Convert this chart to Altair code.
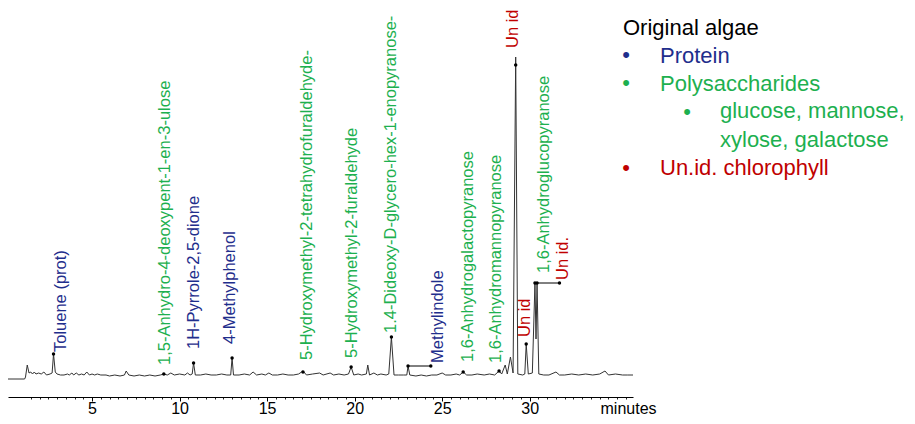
import altair as alt
import pandas as pd

FONT = "Liberation Sans"
NAVY = "#1F2E8C"
GREEN = "#1DB04F"
RED = "#C00000"

# ---- chromatogram trace (retention time in minutes, abundance in arbitrary units) ----
trace_time = [0.2, 1.15, 1.2, 1.3, 1.4, 1.5, 1.6, 1.7, 1.8, 1.95, 2.1, 2.25, 2.4, 2.6, 2.72,
              2.8, 2.9, 3.0, 3.2, 3.4, 3.6, 3.7, 3.85, 3.95, 4.1, 4.25, 4.4, 4.55, 4.7, 4.85,
              5.0, 5.15, 5.3, 5.5, 5.8, 6.0, 6.3, 6.6, 6.85, 6.95, 7.1, 7.4, 7.7, 8.0, 8.3,
              8.6, 8.9, 9.1, 9.3, 9.5, 9.7, 10.0, 10.3, 10.45, 10.6, 10.72, 10.8, 10.9, 11.2, 11.5,
              11.8, 12.1, 12.4, 12.7, 12.92, 13.0, 13.08, 13.4, 13.7, 14.0, 14.2, 14.4, 14.7, 14.9,
              15.1, 15.3, 15.6, 15.9, 16.2, 16.5, 16.8, 17.05, 17.25, 17.6, 18.0, 18.2, 18.6, 18.8,
              19.1, 19.4, 19.65, 19.8, 19.95, 20.2, 20.4, 20.67, 20.75, 20.85, 21.1, 21.3, 21.5,
              21.8, 21.95, 22.1, 22.25, 22.5, 22.8, 22.98, 23.05, 23.15, 23.5, 23.8, 24.1, 24.4,
              24.7, 25.0, 25.2, 25.5, 25.8, 26.0, 26.2, 26.4, 26.7, 27.0, 27.4, 27.7, 28.0, 28.25,
              28.4, 28.6, 28.72, 28.9, 29.05, 29.2, 29.32, 29.6, 29.72, 29.8, 29.92, 30.15, 30.3,
              30.36, 30.42, 30.52, 30.8, 31.1, 31.5, 31.7, 32.0, 32.4, 32.8, 33.2, 33.6, 34.0,
              34.3, 34.5, 34.9, 35.3, 35.6, 35.9]
trace_abund = [0, 0, 2, 14, 6, 7, 5, 7, 5, 6, 5, 7, 4, 5, 6,
               25, 7, 5, 4, 4, 5, 4, 6, 4, 6, 4, 5, 4, 7, 4,
               5, 4, 5, 4, 4, 3, 4, 3, 4, 8, 4, 3, 4, 3, 4,
               3, 4, 5, 4, 6, 4, 5, 4, 6, 4, 5, 16, 4, 4, 5,
               4, 4, 5, 4, 4, 21, 4, 4, 5, 4, 7, 4, 5, 4,
               6, 4, 4, 5, 4, 4, 5, 8, 4, 5, 6, 4, 6, 4,
               5, 4, 5, 12, 4, 5, 4, 5, 14, 4, 6, 4, 5,
               4, 5, 42, 4, 4, 4, 4, 13, 4, 3, 4, 3, 4,
               4, 6, 4, 4, 5, 4, 7, 4, 4, 5, 4, 5, 4, 8,
               5, 14, 5, 22, 6, 322, 5, 4, 5, 35, 5, 6, 96,
               40, 96, 5, 4, 4, 7, 4, 4, 5, 4, 5, 4, 5,
               8, 4, 5, 4, 4, 4]

# ---- peak annotations ----
label_names = ["Toluene (prot)", "1,5-Anhydro-4-deoxypent-1-en-3-ulose", "1H-Pyrrole-2,5-dione",
               "4-Methylphenol", "5-Hydroxymethyl-2-tetrahydrofuraldehyde-",
               "5-Hydroxymethyl-2-furaldehyde", "1.4-Dideoxy-D-glycero-hex-1-enopyranose-",
               "Methylindole", "1,6-Anhydrogalactopyranose", "1,6-Anhydromannopyranose",
               "Un id", "Un id", "1,6-Anhydroglucopyranose", "Un id."]
label_time = [3.2, 9.14, 10.83, 12.9, 17.3, 19.86, 22.1, 24.74, 26.5, 28.06, 29.06, 29.74, 30.83, 31.91]
label_abund = [27, 14, 30, 35, 19, 21, 46, 16, 17, 16, 331, 42, 106, 99]
label_group = ["Protein", "Polysaccharides", "Protein", "Protein", "Polysaccharides",
               "Polysaccharides", "Polysaccharides", "Protein", "Polysaccharides",
               "Polysaccharides", "Un.id.", "Un.id.", "Polysaccharides", "Un.id."]

marker_time = [2.8, 9.1, 10.8, 13.0, 17.05, 19.8, 22.1, 23.05, 24.35, 26.2, 28.25, 29.2, 29.8, 30.3, 30.42, 31.7]
marker_abund = [25, 5, 16, 21, 7, 12, 42, 13, 13, 7, 8, 314, 35, 96, 96, 96]

bracket_start = [23.05, 30.42]
bracket_end = [24.35, 31.7]
bracket_abund = [13, 96]

minor_ticks = [v / 2 for v in range(3, 72)]
major_ticks = [5, 10, 15, 20, 25, 30]

legend_title = "Original algae"
legend_items = ["Protein", "Polysaccharides", "glucose, mannose,", "xylose, galactose", "Un.id. chlorophyll"]

trace = pd.DataFrame({"t": trace_time, "a": trace_abund})
labels = pd.DataFrame({"name": label_names, "t": label_time, "a": label_abund, "g": label_group})
markers = pd.DataFrame({"t": marker_time, "a": marker_abund})
brackets = pd.DataFrame({"t": bracket_start, "t2": bracket_end, "a": bracket_abund})

x_scale = alt.Scale(domain=[0.2, 35.9], nice=False, zero=False)
y_scale = alt.Scale(domain=[0, 322], nice=False, zero=False)

minor_axis = alt.Axis(
    orient="bottom", values=minor_ticks, labels=False, tickSize=2, offset=18, grid=False,
    domain=True, domainColor="black", domainWidth=1, tickColor="#222222", tickWidth=1, title=None,
)
major_axis = alt.Axis(
    orient="bottom", values=major_ticks, format="d", tickSize=4, offset=18, grid=False,
    domain=False, tickColor="black", tickWidth=1,
    labelColor="black", labelFont=FONT, labelFontSize=16, labelBaseline="alphabetic",
    labelPadding=12, labelOverlap=False, labelFlush=False,
    title="minutes", titleFont=FONT, titleFontSize=16, titleFontWeight="normal",
    titleColor="black", titleX=592, titleY=16, titleAlign="left", titleBaseline="alphabetic",
    titleAnchor="start",
)

line = alt.Chart(trace).mark_line(color="#333333", strokeWidth=1).encode(
    x=alt.X("t:Q", scale=x_scale, axis=minor_axis),
    y=alt.Y("a:Q", scale=y_scale, axis=None),
)

rules = alt.Chart(brackets).mark_rule(color="black", strokeWidth=1).encode(
    x=alt.X("t:Q", scale=x_scale, axis=None), x2="t2:Q", y=alt.Y("a:Q", scale=y_scale, axis=None)
)

dots = alt.Chart(markers).mark_point(filled=True, size=12, color="black", opacity=1).encode(
    x=alt.X("t:Q", scale=x_scale, axis=major_axis), y=alt.Y("a:Q", scale=y_scale, axis=None)
)

texts = alt.Chart(labels).mark_text(angle=270, align="left", baseline="middle",
                                    font=FONT, fontSize=16.5).encode(
    x=alt.X("t:Q", scale=x_scale, axis=None),
    y=alt.Y("a:Q", scale=y_scale, axis=None),
    text="name:N",
    color=alt.Color("g:N", scale=alt.Scale(domain=["Protein", "Polysaccharides", "Un.id."],
                                           range=[NAVY, GREEN, RED]), legend=None),
)

one = alt.Data(values=[{"k": 1}])

def legend_text(txt, color, x, y, size=22):
    return alt.Chart(one).mark_text(text=txt, color=color, font=FONT, fontSize=size,
                                    align="left", baseline="alphabetic").encode(
        x=alt.value(x), y=alt.value(y))

def bullet(color, x, y):
    return alt.Chart(one).mark_text(text="\u2022", color=color, font=FONT, fontSize=22,
                                    align="center", baseline="middle").encode(
        x=alt.value(x), y=alt.value(y))

legend_layers = [
    legend_text(legend_title, "black", 615, -22),
    bullet(NAVY, 618, -2), legend_text(legend_items[0], NAVY, 652, 6),
    bullet(GREEN, 618, 26), legend_text(legend_items[1], GREEN, 652, 34),
    bullet(GREEN, 679, 55), legend_text(legend_items[2], GREEN, 712, 61),
    legend_text(legend_items[3], GREEN, 712, 90),
    bullet(RED, 618, 111), legend_text(legend_items[4], RED, 652, 118),
]

chart = alt.layer(line, dots, rules, texts, *legend_layers).resolve_axis(
    x="independent"
).properties(
    width=625, height=322,
    autosize=alt.AutoSizeParams(type="none"),
    padding={"left": 0, "top": 49, "right": 272, "bottom": 37},
).configure_view(stroke=None)

chart.save("out.html", embed_options={"renderer": "svg", "actions": False})
